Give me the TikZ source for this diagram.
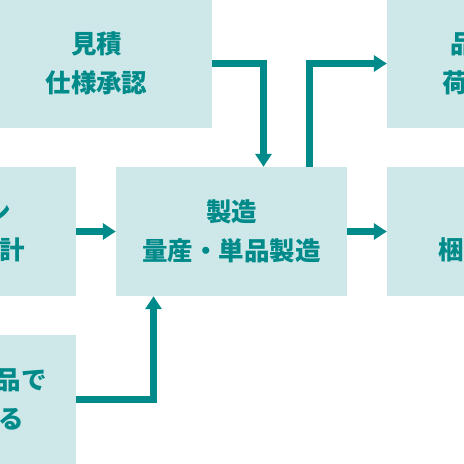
\documentclass[tikz,border=0pt]{standalone}
\usepackage{fontspec}
\usepackage{xcolor}
\usetikzlibrary{arrows.meta}
\newfontfamily\jpfont{Noto Sans CJK JP}
\definecolor{flowteal}{RGB}{0,139,138}
\definecolor{stagefill}{RGB}{206,231,232}

\begin{document}
\begin{tikzpicture}[x=1pt,y=1pt,yscale=-1,xscale=1,
  stage/.style={fill=stagefill, draw=none, minimum width=231pt, minimum height=129pt, inner sep=0pt, align=center, text=flowteal, font=\jpfont\bfseries\fontsize{25.5pt}{38.6pt}\selectfont},
  frag/.style={inner sep=0pt, text=flowteal, font=\jpfont\bfseries\fontsize{25.5pt}{38.6pt}\selectfont},
  flow/.style={draw=flowteal, line width=6.5pt, -{Triangle[length=13pt,width=16pt]}}]
\useasboundingbox (0,0) rectangle (464,464);
\clip (0,0) rectangle (464,464);

%Shape: Rectangle [estimate]
\node[stage] (estimate) at (96.5,63.5) {見積\\仕様承認};
%Shape: Rectangle [design]
\node[stage] (design) at (-39.5,231.5) {};
%Shape: Rectangle [mfg]
\node[stage] (mfg) at (231.5,231.5) {製造\\量産・単品製造};
%Shape: Rectangle [parts]
\node[stage] (parts) at (-39.5,399.5) {};
%Shape: Rectangle [qc]
\node[stage] (qc) at (502.5,63.5) {};
%Shape: Rectangle [pack]
\node[stage] (pack) at (502.5,231.5) {};

% Text Node
\node[frag, anchor=base east] (design-a) at (11.5,221.2) {ン};
% Text Node
\node[frag, anchor=base east] (design-b) at (25,259.8) {計};
% Text Node
\node[frag, anchor=base east] (parts-a) at (47,389.7) {品で};
% Text Node
\node[frag, anchor=base east] (parts-b) at (24.5,428.3) {る};
% Text Node
\node[frag, anchor=base west] (qc-a) at (450.7,53.7) {品};
% Text Node
\node[frag, anchor=base west] (qc-b) at (442.5,92.3) {荷};
% Text Node
\node[frag, anchor=base west] (pack-b) at (438.5,259.8) {梱};

%Straight Lines
\draw[flow] (estimate.east) -| ([xshift=32pt]mfg.north);
\draw[flow] ([xshift=78pt]mfg.north) |- (qc.west);
\draw[flow] (design.east) -- (mfg.west);
\draw[flow] (mfg.east) -- (pack.west);
\draw[flow] (parts.east) -| ([xshift=-78pt]mfg.south);

\end{tikzpicture}
\end{document}
